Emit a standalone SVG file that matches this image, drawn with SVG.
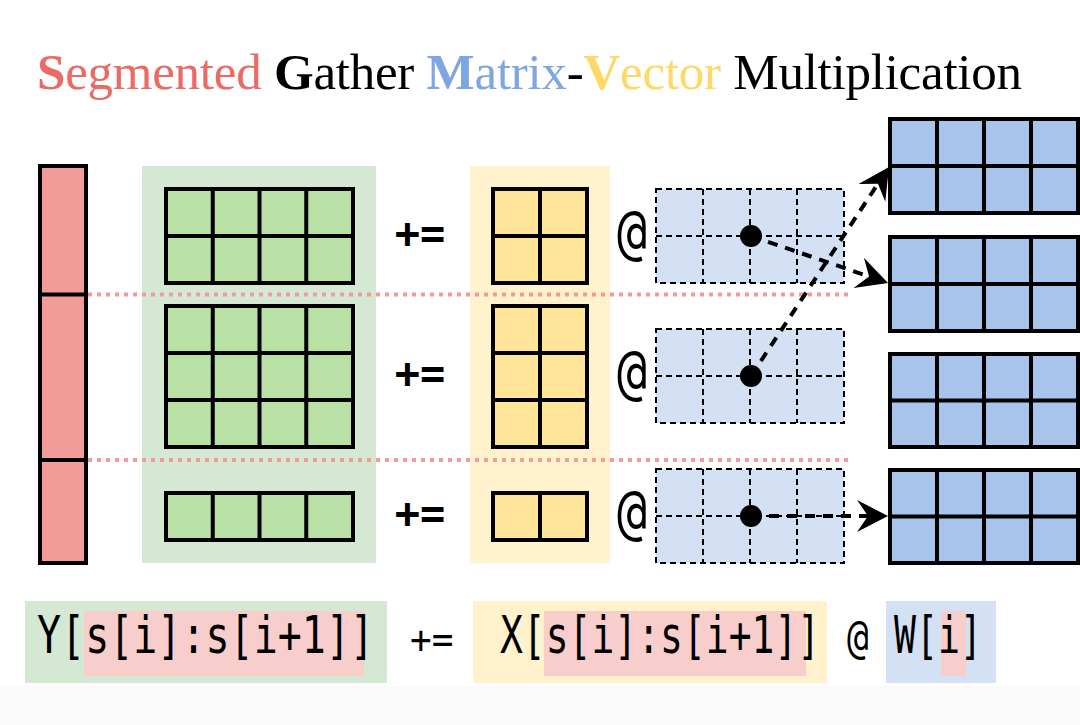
<svg xmlns="http://www.w3.org/2000/svg" width="1080" height="725" viewBox="0 0 1080 725">
<style>
.title{font-family:"Liberation Serif",serif;font-size:51px}
.b{font-weight:bold}
.mono{font-family:"DejaVu Sans Mono","Liberation Mono",monospace;fill:#000}
.cellg{fill:#b9e0a5;stroke:#000;stroke-width:4}
.celly{fill:#ffe599;stroke:#000;stroke-width:4}
.cellb{fill:#a9c4eb;stroke:#000;stroke-width:4}
.celld{fill:#d4e1f5;stroke:#000;stroke-width:2;stroke-dasharray:6 4}
.grid{stroke:#000;stroke-width:4;fill:none}
.dgrid{stroke:#000;stroke-width:2;stroke-dasharray:6 4;fill:none}
.dot{stroke:#f19c99;stroke-width:4;stroke-dasharray:4 5;fill:none}
.arr{stroke:#000;stroke-width:4;stroke-dasharray:10 8;fill:none;marker-end:url(#ah)}
</style>
<defs>
<marker id="ah" viewBox="-12 -17 34 34" refX="0" refY="0" markerWidth="34" markerHeight="34" markerUnits="userSpaceOnUse" orient="auto">
<path d="M20,0 L-11,-16 L0,0 L-11,16 Z" fill="#000"/>
</marker>
</defs>
<rect x="0" y="0" width="1080" height="725" fill="#fff"/>
<rect x="0" y="686" width="1080" height="39" fill="#fafafa"/>

<text class="title" x="37" y="89" textLength="985" lengthAdjust="spacing"><tspan fill="#ea6b66"><tspan class="b">S</tspan>egmented</tspan> <tspan fill="#000"><tspan class="b">G</tspan>ather</tspan> <tspan fill="#7ea6e0"><tspan class="b">M</tspan>atrix</tspan><tspan fill="#000">-</tspan><tspan fill="#ffd966"><tspan class="b">V</tspan>ector</tspan> <tspan fill="#000">Multiplication</tspan></text>

<g id="backgrounds">
<rect x="142" y="166" width="234" height="397" fill="#d5e8d4"/>
<rect x="470" y="166" width="140" height="397" fill="#fff2cc"/>
</g>

<g id="segment-lines">
<line class="dot" x1="88" y1="294.5" x2="850" y2="294.5"/>
<line class="dot" x1="88" y1="460" x2="850" y2="460"/>
</g>

<g id="s-vector">
<rect x="40" y="166" width="46" height="397" fill="#f19c99" stroke="#000" stroke-width="4"/>
<line class="grid" x1="40" y1="294.5" x2="86" y2="294.5"/>
<line class="grid" x1="40" y1="460" x2="86" y2="460"/>
</g>

<g id="Y-top">
<rect class="cellg" x="166" y="189" width="187" height="94"/>
<path class="grid" d="M212.75,189V283M259.5,189V283M306.25,189V283M166,236H353"/>
</g>
<g id="Y-mid">
<rect class="cellg" x="166" y="306" width="187" height="141"/>
<path class="grid" d="M212.75,306V447M259.5,306V447M306.25,306V447M166,353H353M166,400H353"/>
</g>
<g id="Y-bot">
<rect class="cellg" x="166" y="493" width="187" height="47"/>
<path class="grid" d="M212.75,493V540M259.5,493V540M306.25,493V540"/>
</g>

<g id="ops">
<text class="mono" x="420" y="248" font-size="42" font-weight="bold" text-anchor="middle">+=</text>
<text class="mono" x="420" y="388" font-size="42" font-weight="bold" text-anchor="middle">+=</text>
<text class="mono" x="420" y="528" font-size="42" font-weight="bold" text-anchor="middle">+=</text>
<text class="mono" transform="translate(617,253) scale(1,1.5)" font-size="40" textLength="30" lengthAdjust="spacingAndGlyphs">@</text>
<text class="mono" transform="translate(617,393) scale(1,1.5)" font-size="40" textLength="30" lengthAdjust="spacingAndGlyphs">@</text>
<text class="mono" transform="translate(617,533) scale(1,1.5)" font-size="40" textLength="30" lengthAdjust="spacingAndGlyphs">@</text>
</g>

<g id="X-top">
<rect class="celly" x="493" y="189" width="94" height="94"/>
<path class="grid" d="M540,189V283M493,236H587"/>
</g>
<g id="X-mid">
<rect class="celly" x="493" y="306" width="94" height="141"/>
<path class="grid" d="M540,306V447M493,353H587M493,400H587"/>
</g>
<g id="X-bot">
<rect class="celly" x="493" y="493" width="94" height="47"/>
<path class="grid" d="M540,493V540"/>
</g>

<g id="W-gather-top">
<rect class="celld" x="656" y="189" width="188" height="94"/>
<path class="dgrid" d="M703,189V283M750,189V283M797,189V283M656,236H844"/>
</g>
<g id="W-gather-mid">
<rect class="celld" x="656" y="329" width="188" height="94"/>
<path class="dgrid" d="M703,329V423M750,329V423M797,329V423M656,376H844"/>
</g>
<g id="W-gather-bot">
<rect class="celld" x="656" y="469" width="188" height="94"/>
<path class="dgrid" d="M703,469V563M750,469V563M797,469V563M656,516H844"/>
</g>

<g id="W0">
<rect class="cellb" x="890" y="119" width="188" height="94"/>
<path class="grid" d="M937,119V213M984,119V213M1031,119V213M890,166H1078"/>
</g>
<g id="W1">
<rect class="cellb" x="890" y="237" width="188" height="94"/>
<path class="grid" d="M937,237V331M984,237V331M1031,237V331M890,284H1078"/>
</g>
<g id="W2">
<rect class="cellb" x="890" y="354" width="188" height="93"/>
<path class="grid" d="M937,354V447M984,354V447M1031,354V447M890,400.5H1078"/>
</g>
<g id="W3">
<rect class="cellb" x="890" y="470" width="188" height="93"/>
<path class="grid" d="M937,470V563M984,470V563M1031,470V563M890,516.5H1078"/>
</g>

<g id="connectors">
<path class="arr" d="M751,236 L869.1,276.5"/>
<path class="arr" d="M751,376 L878,183.7"/>
<path class="arr" d="M751,516 L868,516"/>
<circle cx="751" cy="236" r="11" fill="#000"/>
<circle cx="751" cy="376" r="11" fill="#000"/>
<circle cx="751" cy="516" r="11" fill="#000"/>
</g>

<g id="formula">
<rect x="25" y="601" width="362" height="82" fill="#d5e8d4"/>
<rect x="84" y="611" width="280" height="65" fill="#f8cecc"/>
<rect x="473" y="601" width="354" height="82" fill="#fff2cc"/>
<rect x="544" y="611" width="262" height="65" fill="#f8cecc"/>
<rect x="886" y="601" width="110" height="82" fill="#d4e1f5"/>
<rect x="941" y="611" width="25" height="65" fill="#f8cecc"/>
<text class="mono" transform="translate(37,653) scale(1,1.3)" font-size="40">Y[s[i]:s[i+1]]</text>
<text class="mono" transform="translate(410,653) scale(1,1.1)" font-size="36">+=</text>
<text class="mono" transform="translate(500,653) scale(1,1.37)" font-size="38">X[s[i]:s[i+1]]</text>
<text class="mono" transform="translate(847,653) scale(1,1.3)" font-size="36">@</text>
<text class="mono" transform="translate(894,653) scale(1,1.4)" font-size="36.5">W[i]</text>
</g>
</svg>
